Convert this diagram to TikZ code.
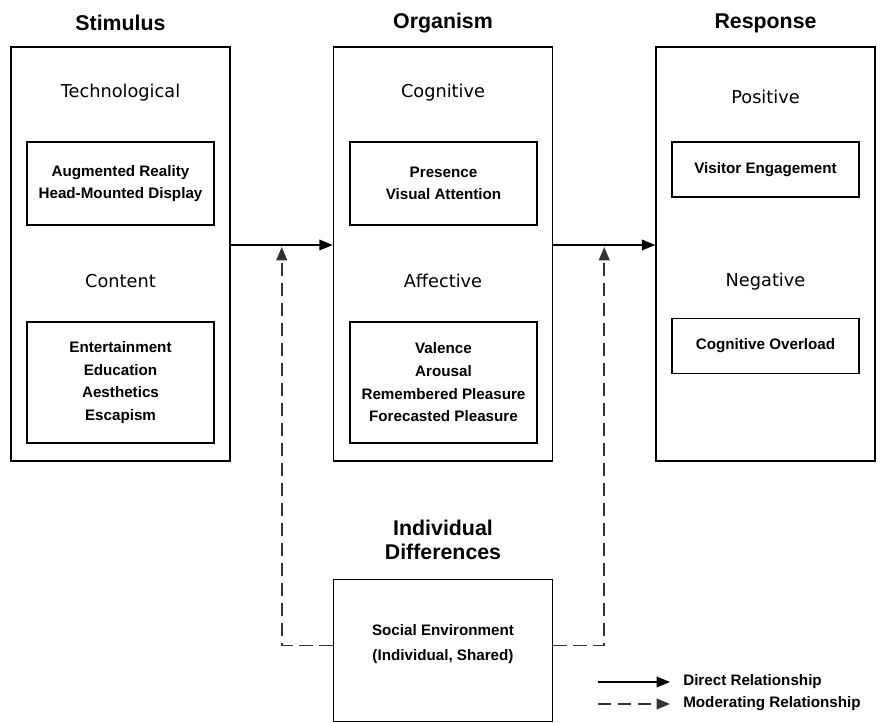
\documentclass[tikz,border=0pt]{standalone}
\usepackage{fontspec}
\setmainfont{Liberation Sans}
\newfontfamily\catfont{DejaVu Sans}
\usetikzlibrary{arrows.meta}

\begin{document}
\begin{tikzpicture}[
  x=0.75pt, y=-0.75pt,
  outerbox/.style={draw, line width=1.2pt, minimum width=164.25pt, minimum height=310.5pt},
  innerbox/.style={draw, line width=0.9pt, minimum width=140.25pt, align=center, font=\bfseries\fontsize{11.4}{17}\selectfont},
  heading/.style={align=center, font=\bfseries\fontsize{16}{18}\selectfont},
  category/.style={font=\catfont\fontsize{13.3}{16}\selectfont},
  direct/.style={line width=1pt, -{Triangle[length=10pt, width=8pt]}},
  moderating/.style={direct, color=black!80, line width=1.4pt, dash pattern=on 10pt off 5pt},
  legendtext/.style={anchor=west, inner sep=0pt, font=\bfseries\fontsize{11.4}{14}\selectfont}
]
\useasboundingbox (0,0) rectangle (880,723);

\node[outerbox] (stim) at (120.5,254) {};
\node[outerbox] (org) at (443,254) {};
\node[outerbox] (resp) at (765.5,254) {};
\node[outerbox, minimum height=106.5pt] (indiv) at (443,650.5) {};

\node[heading] (stimtitle) at (120.5,23) {Stimulus};
\node[heading] (orgtitle) at (443,23) {Organism};
\node[heading] (resptitle) at (765.5,23) {Response};
\node[heading] (indivtitle) at (443,540) {Individual\\Differences};

\node[category] (techlabel) at (120.5,93) {Technological};
\node[category] (contlabel) at (120.5,281) {Content};
\node[category] (coglabel) at (443,93) {Cognitive};
\node[category] (afflabel) at (443,281) {Affective};
\node[category] (poslabel) at (765.5,97) {Positive};
\node[category] (neglabel) at (765.5,282) {Negative};

\node[innerbox, minimum height=62.25pt] (tech) at (120.5,183.5) {Augmented Reality\\Head-Mounted Display};
\node[innerbox, minimum height=90.75pt] (cont) at (120.5,382.5) {Entertainment\\Education\\Aesthetics\\Escapism};
\node[innerbox, minimum height=62.25pt] (cog) at (443.5,183.5) {Presence\\Visual Attention};
\node[innerbox, minimum height=90.75pt] (aff) at (443.5,382.5) {Valence\\Arousal\\Remembered Pleasure\\Forecasted Pleasure};
\node[innerbox, minimum height=41.25pt] (pos) at (765.5,169.5) {Visitor Engagement};
\node[innerbox, minimum height=41.25pt] (neg) at (765.5,346) {Cognitive Overload};
\node[align=center, font=\bfseries\fontsize{11.4}{18.5}\selectfont] (social) at (443,644) {Social Environment\\(Individual, Shared)};

\draw[direct] ([yshift=6.75pt]stim.east) -- coordinate[midway] (modleft) ([yshift=6.75pt]org.west);
\draw[direct] ([yshift=6.75pt]org.east) -- coordinate[midway] (modright) ([yshift=6.75pt]resp.west);
\draw[moderating] ([yshift=3.75pt]indiv.west) -| ([yshift=-1.5pt]modleft);
\draw[moderating] ([yshift=3.75pt]indiv.east) -| ([yshift=-1.5pt]modright);

\node[legendtext] (legdirect) at (683,682) {Direct Relationship};
\node[legendtext] (legmoder) at (683,704) {Moderating Relationship};
\coordinate (legdirectstart) at (598,682);
\coordinate (legmoderstart) at (598,704);
\draw[direct] (legdirectstart) -- ([xshift=-9.75pt]legdirect.west);
\draw[moderating] (legmoderstart) -- ([xshift=-9.75pt]legmoder.west);
\end{tikzpicture}
\end{document}
